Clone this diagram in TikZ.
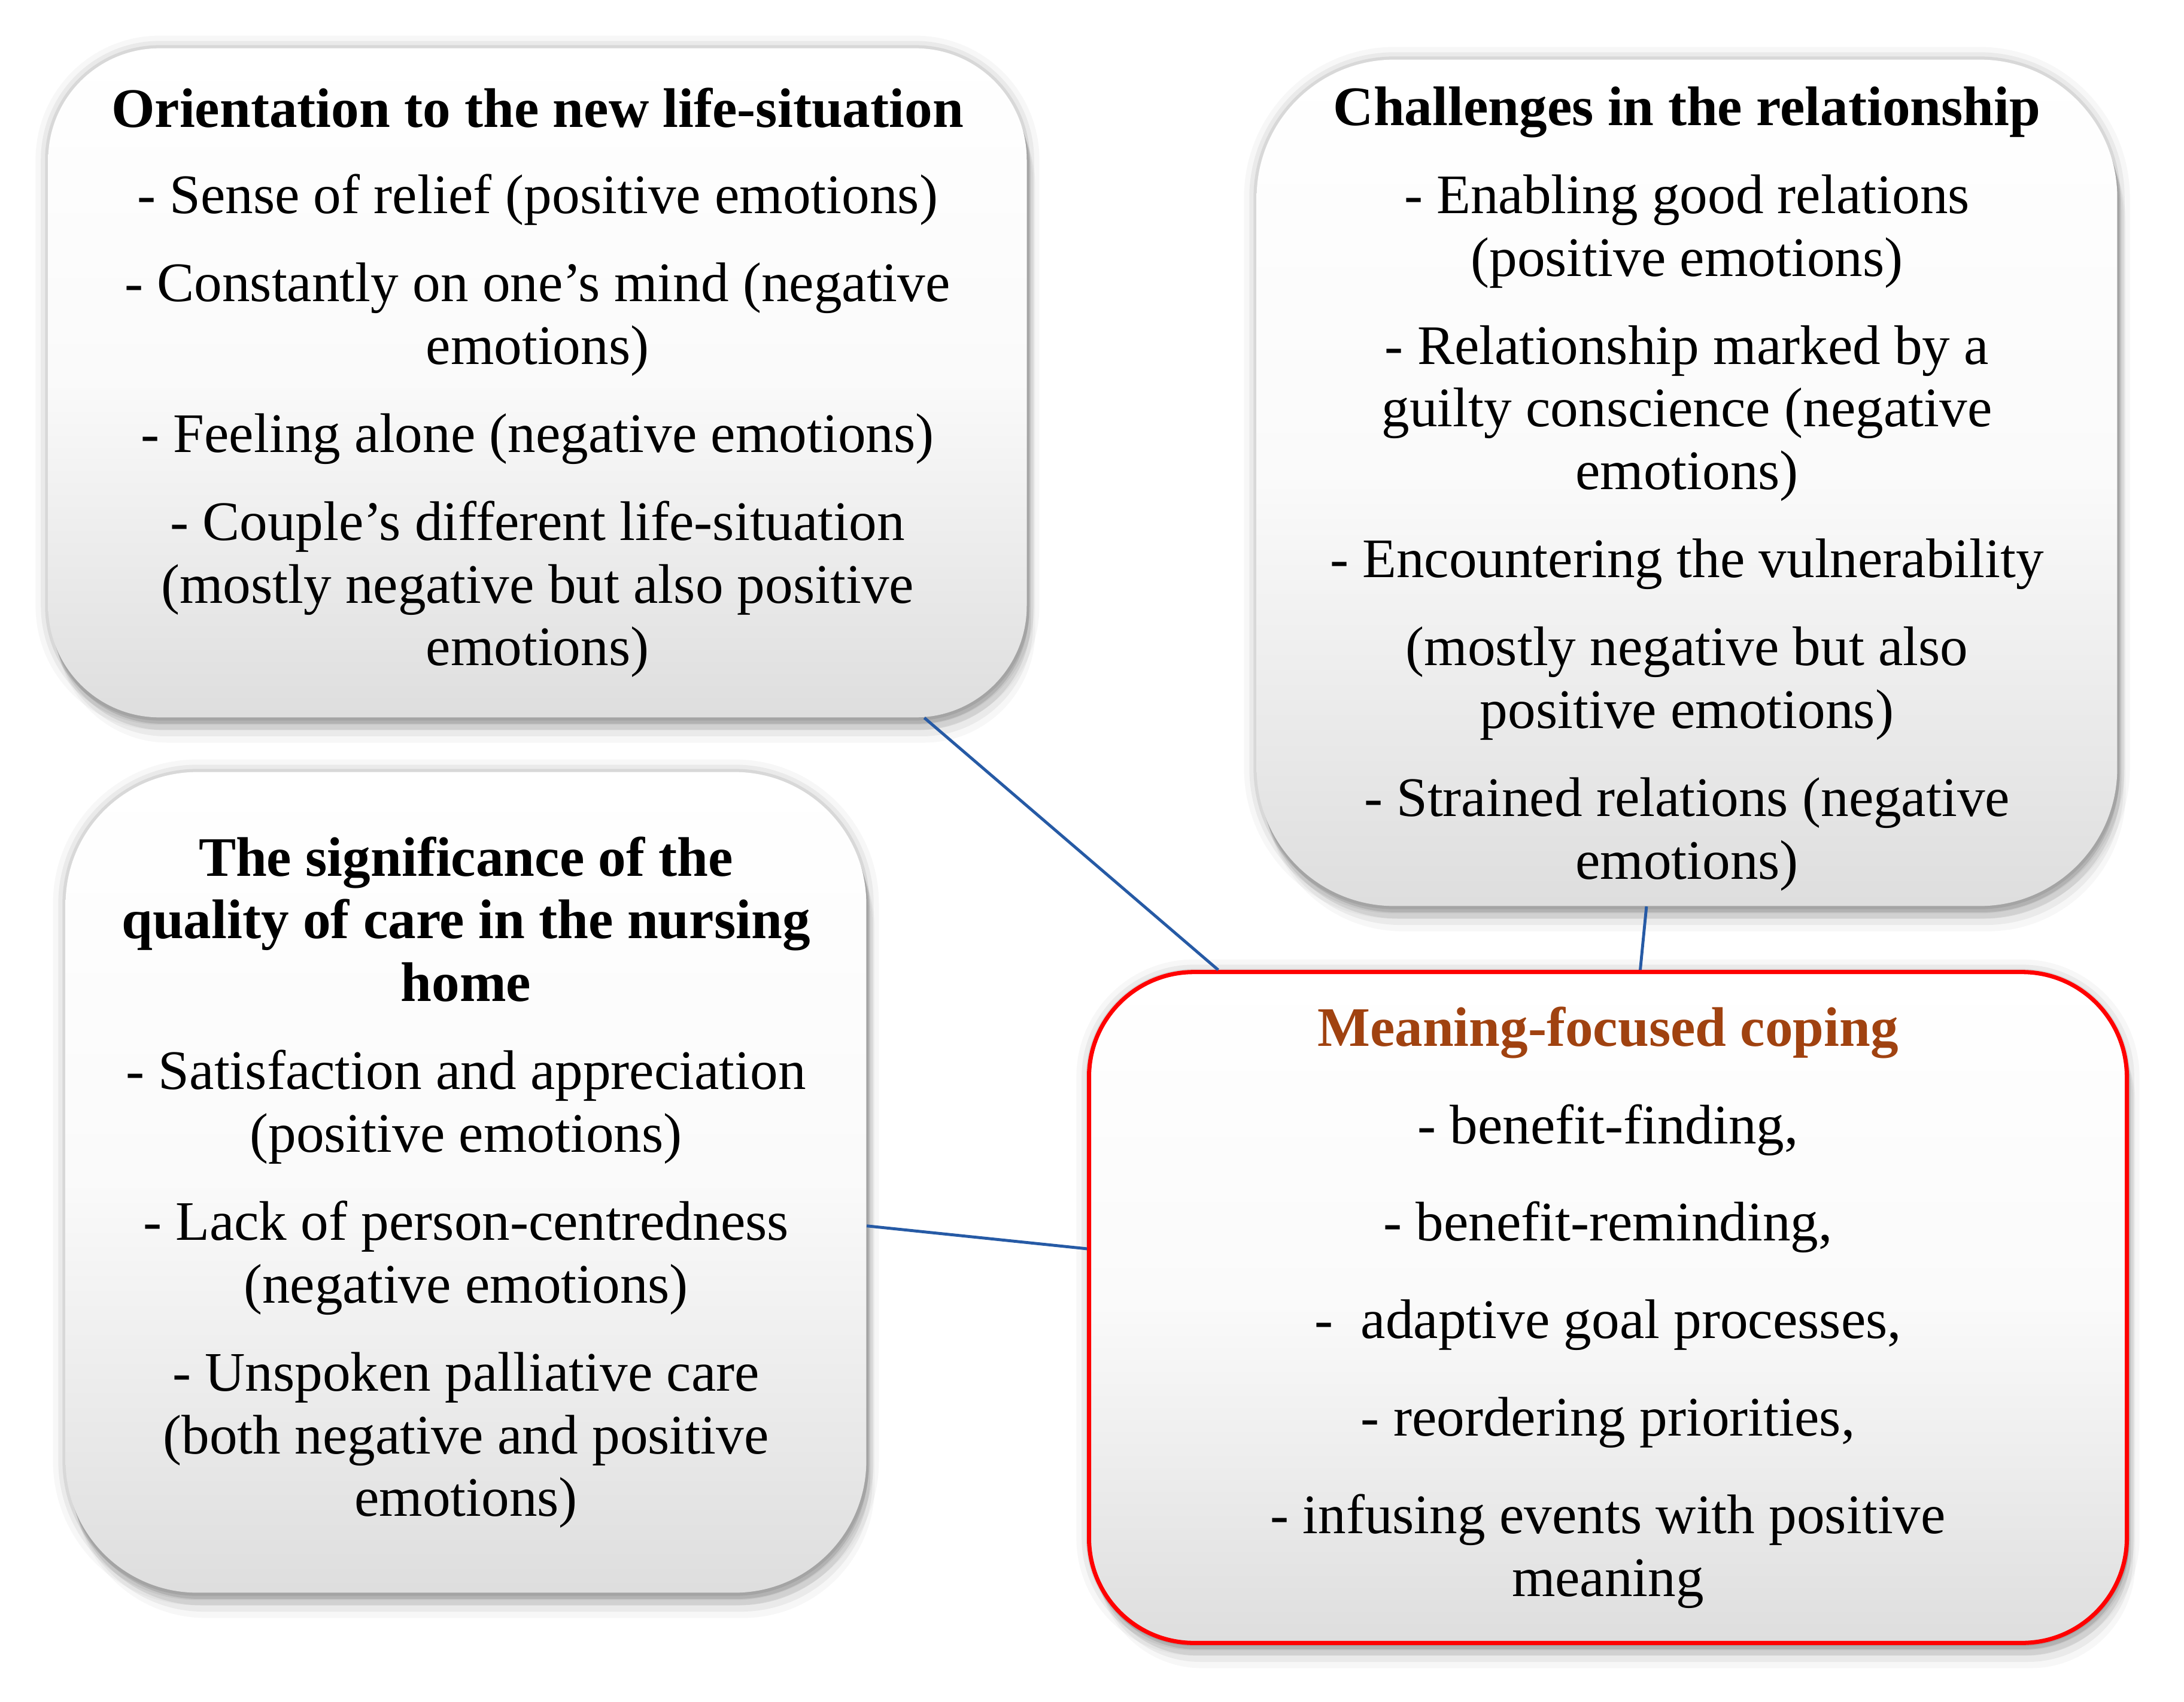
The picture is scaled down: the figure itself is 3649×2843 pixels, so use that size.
\documentclass[tikz,border=0pt]{standalone}
\usepackage{fontspec}
\setmainfont{Liberation Serif}
\usetikzlibrary{shadows,calc}
\definecolor{titlebrown}{RGB}{160,66,16}
\definecolor{linkblue}{RGB}{38,90,165}
\newcommand\boxfont{\fontsize{26.5}{29.8}\selectfont}
\tikzset{
  softshadow/.style={
    general shadow={shadow xshift=1pt,shadow yshift=-3pt,fill=black,opacity=0.10},
    general shadow={shadow xshift=2pt,shadow yshift=-6pt,fill=black,opacity=0.08},
    general shadow={shadow xshift=3pt,shadow yshift=-9pt,fill=black,opacity=0.05},
    general shadow={shadow xshift=4pt,shadow yshift=-12pt,fill=black,opacity=0.03}},
  halo/.style={
    preaction={draw=black, draw opacity=0.03, line width=12pt},
    preaction={draw=black, draw opacity=0.05, line width=7pt},
    preaction={draw=black, draw opacity=0.08, line width=3pt}},
  graybox/.style={rectangle, top color=white, bottom color=black!13, middle color=black!2,
    align=center, font=\boxfont, inner sep=0pt, softshadow, halo},
  redbox/.style={graybox, draw=red, line width=2pt},
  link/.style={draw=linkblue, line width=1.4pt},
}
\begin{document}
\begin{tikzpicture}[x=0.01cm,y=-0.01cm]
\useasboundingbox (0,0) rectangle (3649,2843);

\node[graybox, minimum width=16.34cm, minimum height=11.17cm, rounded corners=1.86cm] (A) at (898,639.5) {%
\textbf{Orientation to the new life-situation}\\[11pt]
- Sense of relief (positive emotions)\\[12pt]
- Constantly on one’s mind (negative\\emotions)\\[12pt]
- Feeling alone (negative emotions)\\[12pt]
- Couple’s different life-situation\\(mostly negative but also positive\\emotions)};

\node[graybox, minimum width=14.37cm, minimum height=14.13cm, rounded corners=2.3cm] (B) at (2818.5,806.5) {%
\rule{0pt}{24pt}\textbf{Challenges in the relationship}\\[12pt]
- Enabling good relations\\(positive emotions)\\[12pt]
- Relationship marked by a\\guilty conscience (negative\\emotions)\\[12pt]
- Encountering the vulnerability\\[12pt]
(mostly negative but also\\positive emotions)\\[12pt]
- Strained relations (negative\\emotions)};

\node[graybox, minimum width=13.37cm, minimum height=13.70cm, rounded corners=2.2cm] (C) at (778.5,1975) {%
\textbf{The significance of the}\\\textbf{quality of care in the nursing}\\\textbf{home}\\[12pt]
- Satisfaction and appreciation\\(positive emotions)\\[12pt]
- Lack of person-centredness\\(negative emotions)\\[12pt]
- Unspoken palliative care\\(both negative and positive\\emotions)};

\node[redbox, minimum width=17.33cm, minimum height=11.20cm, rounded corners=1.75cm] (D) at (2686.5,2184) {%
\textcolor{titlebrown}{\textbf{Meaning-focused coping}}\\[16.5pt]
- benefit-finding,\\[16.5pt]
- benefit-reminding,\\[16.5pt]
-\ \ adaptive goal processes,\\[16.5pt]
- reordering priorities,\\[16.5pt]
- infusing events with positive\\meaning};

\coordinate (a1) at ($(A.south west)!0.895!(A.south east)$);
\coordinate (d1) at ($(D.north west)!0.126!(D.north east)$);
\coordinate (b1) at ($(B.south west)!0.453!(B.south east)$);
\coordinate (d2) at ($(D.north west)!0.531!(D.north east)$);
\coordinate (c1) at ($(C.north east)!0.553!(C.south east)$);
\coordinate (d3) at ($(D.north west)!0.413!(D.south west)$);

\draw[link] (a1) -- (d1);
\draw[link] (b1) -- (d2);
\draw[link] (c1) -- (d3);
\end{tikzpicture}
\end{document}
